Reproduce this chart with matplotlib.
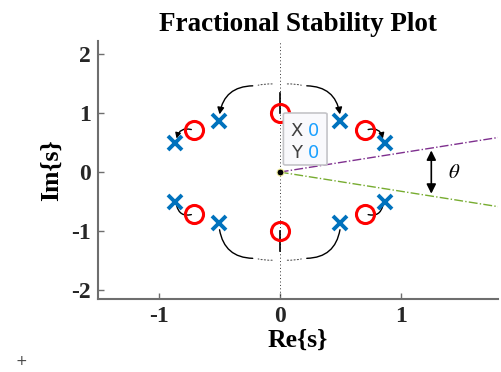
import numpy as np
import matplotlib
matplotlib.use('Agg')
import matplotlib.pyplot as plt
from matplotlib.patches import FancyArrowPatch, FancyBboxPatch

# poles (x) and zeros (o) of the fractional system
pole_re = [0.5, -0.5, 0.866, -0.866, -0.866, 0.866, 0.5, -0.5]
pole_im = [0.866, 0.866, 0.5, 0.5, -0.5, -0.5, -0.866, -0.866]
zero_re = [0.0, 0.707, -0.707, -0.707, 0.707, 0.0]
zero_im = [1.0, 0.707, 0.707, -0.707, -0.707, -1.0]

theta_deg = 18.0      # stability wedge half-angle
wedge_x = [0.0, 1.8]
tick_vals_x = [-1, 0, 1]
tick_vals_y = [-2, -1, 0, 1, 2]

plt.rcParams['mathtext.fontset'] = 'stix'
SERIF = ['Liberation Serif', 'DejaVu Serif']
BLUE = '#0072BD'
RED = '#FF0000'
SPINE = '#6e6e6e'

fig = plt.figure(figsize=(5.02, 3.72), dpi=100)
ax = fig.add_axes([0.195, 0.196, 0.797, 0.694])

# imaginary axis (dotted) + short solid stubs at the zeros on it
ax.plot([0, 0], [-2.15, 2.22], ls=(0, (1, 2.5)), color='#333333', lw=0.7)
ax.plot([0, 0], [1.0, 1.34], color='k', lw=1.2)
ax.plot([0, 0], [-1.0, -1.34], color='k', lw=1.2)

# stability wedge lines
t = np.tan(np.radians(theta_deg))
ax.plot(wedge_x, [v * t for v in wedge_x], ls='-.', color='#7E2F8E', lw=1.0)
ax.plot(wedge_x, [-v * t for v in wedge_x], ls='-.', color='#77AC30', lw=1.0)

# big curved arrows (zero on imag axis -> poles)
for sx in (-1, 1):
    for sy in (-1, 1):
        start = (0.2 * sx, 1.46 * sy)
        end = (0.5 * sx, 0.93 * sy)
        rad = -0.45 * sx * sy
        style = '-|>' if sy > 0 else '-'
        arr = FancyArrowPatch(start, end, arrowstyle=style, mutation_scale=10,
                              connectionstyle='arc3,rad=%.2f' % rad,
                              color='k', lw=1.0, zorder=3)
        ax.add_patch(arr)
        dots = FancyArrowPatch((0.04 * sx, 1.49 * sy), start, arrowstyle='-',
                               connectionstyle='arc3,rad=%.2f' % (-0.08 * sx * sy),
                               color='#555555', lw=0.8, ls=(0, (1, 2)), zorder=3)
        ax.add_patch(dots)

# small curved arrows (off-axis zeros -> neighbouring poles)
for sx in (-1, 1):
    for sy in (-1, 1):
        start = (0.707 * sx, 0.707 * sy)
        end = (0.855 * sx, 0.52 * sy)
        rad = -0.6 * sx * sy
        style = '-|>' if sy > 0 else '-'
        arr = FancyArrowPatch(start, end, arrowstyle=style, mutation_scale=8,
                              connectionstyle='arc3,rad=%.2f' % rad,
                              color='k', lw=1.0, zorder=3)
        ax.add_patch(arr)

ax.plot(zero_re, zero_im, 'o', ms=13, mfc='none', mec=RED, mew=2.2, ls='none', zorder=4)
ax.plot(pole_re, pole_im, 'x', ms=10, mec=BLUE, mew=2.8, ls='none', zorder=4)

# double arrow for theta
ax.annotate('', xy=(1.25, -t * 1.27), xytext=(1.25, t * 1.27),
            arrowprops=dict(arrowstyle='<|-|>', color='k', lw=1.2, mutation_scale=14),
            zorder=5)
ax.text(1.44, 0.0, r'$\theta$', fontsize=15, ha='center', va='center')

# datatip at the origin
ax.plot([0], [0], 'o', ms=5, mfc='k', mec='#f3f0a0', mew=0.8, zorder=6)
box = FancyBboxPatch((0.03, 0.12), 0.36, 0.88, boxstyle='round,pad=0.0,rounding_size=0.02',
                     fc='#f9f9fc', ec='#c4c4c8', lw=1.2, zorder=6)
ax.add_patch(box)
for yy, lab in ((0.70, 'X'), (0.33, 'Y')):
    ax.text(0.09, yy, lab, fontsize=13, color='#404040', ha='left', va='center',
            family=['DejaVu Sans'], zorder=7)
    ax.text(0.235, yy, '0', fontsize=13, color='#1aa0ff', ha='left', va='center',
            family=['DejaVu Sans'], zorder=7)

ax.set_xlim(-1.5, 1.8)
ax.set_ylim(-2.15, 2.22)
ax.set_xticks(tick_vals_x)
ax.set_yticks(tick_vals_y)
ax.set_xticklabels([str(v) for v in tick_vals_x])
ax.set_yticklabels([str(v) for v in tick_vals_y])
for lab in ax.get_xticklabels() + ax.get_yticklabels():
    lab.set_family(SERIF)
    lab.set_fontweight('bold')
    lab.set_fontsize(17)
    lab.set_color('#262626')
ax.tick_params(direction='in', length=4, width=1.0, color=SPINE, pad=5)
for side in ('top', 'right'):
    ax.spines[side].set_visible(False)
for side in ('left', 'bottom'):
    ax.spines[side].set_color(SPINE)
    ax.spines[side].set_linewidth(1.5)

ax.set_title('Fractional Stability Plot', family=SERIF, fontweight='bold',
             fontsize=19.5, pad=7)
ax.set_xlabel('Re{s}', family=SERIF, fontweight='bold', fontsize=18.5, labelpad=1)
ax.set_ylabel('Im{s}', family=SERIF, fontweight='bold', fontsize=18.5, labelpad=6)

# stray cursor crosshair seen in the corner of the original screenshot
fig.text(0.042, 0.03, '+', fontsize=10, color='#444444', ha='center', va='center')

fig.savefig('out.png', dpi=100)
